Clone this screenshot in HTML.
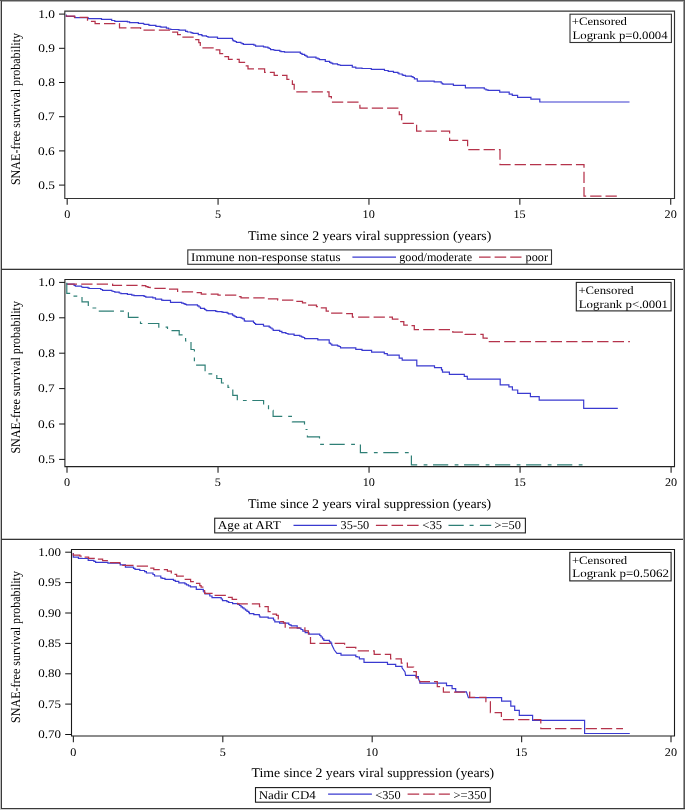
<!DOCTYPE html>
<html><head><meta charset="utf-8"><style>
html,body{margin:0;padding:0;background:#fff;}
svg{display:block;will-change:transform;}
text{text-rendering:geometricPrecision;font-family:"Liberation Serif", serif;fill:#000;stroke:none;}
</style></head><body>
<svg width="685" height="810" viewBox="0 0 685 810">
<rect x="0" y="0" width="685" height="810" fill="#fff"/>
<rect x="0" y="0" width="1" height="810" fill="#bcbcbc"/>
<rect x="1" y="0" width="1" height="810" fill="#3a3a3a"/>
<rect x="0" y="0" width="685" height="1" fill="#555"/>
<rect x="2" y="1" width="681" height="1" fill="#ababab"/>
<rect x="683" y="1" width="1" height="808" fill="#9a9a9a"/>
<rect x="684" y="0" width="1" height="810" fill="#555"/>
<rect x="1" y="808" width="684" height="1" fill="#3a3a3a"/>
<rect x="0" y="809" width="685" height="1" fill="#cfcfcf"/>
<rect x="2" y="268" width="681" height="1" fill="#c4c4c4"/>
<rect x="2" y="269" width="681" height="1" fill="#353535"/>
<rect x="2" y="538" width="681" height="1" fill="#c4c4c4"/>
<rect x="2" y="539" width="681" height="1" fill="#353535"/>
<clipPath id="c0"><rect x="64.8" y="11.1" width="609.7" height="187.4"/></clipPath>
<g fill="none" clip-path="url(#c0)" stroke-linejoin="miter">
<path d="M66.3 14.5 V16.3 H74.8 V17.7 H88.1 V18.6 H101.5 V19.4 H111.7 V20.5 H114.8 V21.3 H127.4 V21.9 H129.6 V22.6 H138.4 V23.3 H143.5 V24 H144.5 V24.3 H148.8 V25.2 H149.8 V25.4 H155.9 V26.3 H160.2 V26.8 H161.2 V27.2 H166.4 V28.1 H168.6 V29 H170.8 V29.5 H178.5 V29.9 H179.5 V30.2 H185.6 V31.3 H187.4 V32 H190.9 V32.6 H192.2 V33.2 H193.5 V33.4 H198.3 V34.6 H201.5 V35.2 H202.3 V35.8 H206.5 V36.5 H208 V37.2 H217.5 V38.3 H232.5 V40 H233.3 V40.8 H235 V41.5 H236.4 V42.3 H240.8 V43 H242 V43.7 H243.4 V44.3 H253.9 V45.2 H255.6 V46.1 H263.5 V46.9 H265.3 V47.2 H267.9 V47.8 H269.2 V48.5 H270.5 V49.6 H273.6 V50 H274.9 V50.4 H279.7 V51.1 H281 V51.6 H284.5 V52.2 H300.3 V53.3 H302 V54.3 H304.6 V55.4 H306 V56.2 H307.3 V57.2 H316 V58.1 H318 V58.8 H319.5 V59.6 H325.3 V61.3 H329.6 V62.4 H331 V63.2 H332.7 V63.9 H337.5 V64.6 H339 V65 H340.5 V65.4 H352.3 V67.2 H355.8 V68.1 H362 V68.5 H371.3 V69.4 H384.5 V70.5 H388.2 V71.4 H393.5 V72.4 H397.9 V73.1 H399 V74 H402.2 V74.9 H403.1 V75.3 H405.5 V76.1 H411.4 V76.6 H413 V77.5 H414.4 V78.8 H417.3 V81.2 H434.2 V81.8 H441.2 V83 H442.3 V83.8 H443.3 V84.2 H453.4 V85.3 H465.4 V87.8 H484.3 V89 H486 V89.8 H488 V90.4 H499.7 V92.2 H509.2 V94.1 H512.3 V95.4 H517.6 V97.3 H530.9 V99.2 H539.8 V102 H629.5" stroke="#3a3ad0" stroke-width="1.2"/>
<path d="M66.5 14.2 V16 H74.5 V17.4 H87.5 V21.4 H95.1 V23.6 H119.5 V27.8 H140.6 V30.1 H171.2 V32.1 H177.6 V34.6 H183 V37.2 H195.8 V39.6 H198.8 V42.5 H200.3 V45.4 H202 V47.8 H215.5 V49.9 H219.8 V53.6 H224 V56.5 H228.5 V59.4 H239.2 V62.3 H245.5 V65.8 H248 V68.8 H264.6 V72.3 H274.2 V75.4 H286.9 V79.3 H292.4 V84.4 H294.2 V91.8 H329 V96.7 H331.4 V102.1 H359.9 V108.2 H399.3 V114.6 H401.7 V123.4 H416.6 V131 H449.6 V140.3 H467.6 V149.6 H500 V164.5 H584 V196.2 H616.9" stroke="#b5334b" stroke-width="1.25" stroke-dasharray="11.3 4.02" stroke-dashoffset="14.35"/>
</g>
<path d="M64.8 198.5 V11.1 H674.5 V198.5 Z" fill="none" stroke="#333" stroke-width="1.15"/>
<line x1="59.0" y1="14.1" x2="64.8" y2="14.1" stroke="#111" stroke-width="1.0"/>
<text x="38.16" y="17.70" font-size="11.6" textLength="16.74" lengthAdjust="spacingAndGlyphs">1.0</text>
<line x1="59.0" y1="48.3" x2="64.8" y2="48.3" stroke="#111" stroke-width="1.0"/>
<text x="38.20" y="51.90" font-size="11.6" textLength="16.74" lengthAdjust="spacingAndGlyphs">0.9</text>
<line x1="59.0" y1="82.5" x2="64.8" y2="82.5" stroke="#111" stroke-width="1.0"/>
<text x="38.16" y="86.10" font-size="11.6" textLength="16.74" lengthAdjust="spacingAndGlyphs">0.8</text>
<line x1="59.0" y1="116.7" x2="64.8" y2="116.7" stroke="#111" stroke-width="1.0"/>
<text x="38.06" y="120.30" font-size="11.6" textLength="16.74" lengthAdjust="spacingAndGlyphs">0.7</text>
<line x1="59.0" y1="150.9" x2="64.8" y2="150.9" stroke="#111" stroke-width="1.0"/>
<text x="38.06" y="154.50" font-size="11.6" textLength="16.74" lengthAdjust="spacingAndGlyphs">0.6</text>
<line x1="59.0" y1="185.1" x2="64.8" y2="185.1" stroke="#111" stroke-width="1.0"/>
<text x="38.20" y="188.70" font-size="11.6" textLength="16.74" lengthAdjust="spacingAndGlyphs">0.5</text>
<line x1="67.20" y1="198.5" x2="67.20" y2="204.7" stroke="#333" stroke-width="1.2"/>
<text x="64.16" y="218.30" font-size="11.6" textLength="6.09" lengthAdjust="spacingAndGlyphs">0</text>
<line x1="218.07" y1="198.5" x2="218.07" y2="204.7" stroke="#333" stroke-width="1.2"/>
<text x="214.92" y="218.30" font-size="11.6" textLength="6.09" lengthAdjust="spacingAndGlyphs">5</text>
<line x1="368.95" y1="198.5" x2="368.95" y2="204.7" stroke="#333" stroke-width="1.2"/>
<text x="362.56" y="218.30" font-size="11.6" textLength="12.18" lengthAdjust="spacingAndGlyphs">10</text>
<line x1="519.83" y1="198.5" x2="519.83" y2="204.7" stroke="#333" stroke-width="1.2"/>
<text x="513.45" y="218.30" font-size="11.6" textLength="12.18" lengthAdjust="spacingAndGlyphs">15</text>
<line x1="670.70" y1="198.5" x2="670.70" y2="204.7" stroke="#333" stroke-width="1.2"/>
<text x="664.56" y="218.30" font-size="11.6" textLength="12.18" lengthAdjust="spacingAndGlyphs">20</text>
<text x="248.06" y="239.70" font-size="13.2" textLength="243.34" lengthAdjust="spacingAndGlyphs">Time since 2 years viral suppression (years)</text>
<text transform="translate(20.1 184.3) rotate(-90)" x="-0.81" y="0" font-size="13.2" textLength="152.18" lengthAdjust="spacingAndGlyphs">SNAE-free survival probability</text>
<rect x="570.0" y="14.2" width="101.39999999999998" height="28.3" fill="#fff" stroke="#333" stroke-width="1.1"/>
<text x="571.76" y="24.90" font-size="11.4" textLength="55.21" lengthAdjust="spacingAndGlyphs">+Censored</text>
<text x="572.52" y="39.10" font-size="11.4" textLength="95.06" lengthAdjust="spacingAndGlyphs">Logrank p=0.0004</text>
<rect x="187.8" y="249.9" width="363.7" height="14.400000000000006" fill="none" stroke="#333" stroke-width="1.1"/>
<text x="191.14" y="261.00" font-size="12.0" textLength="149.45" lengthAdjust="spacingAndGlyphs">Immune non-response status</text>
<line x1="352.4" y1="257.2" x2="396.0" y2="257.2" fill="none" stroke="#3a3ad0" stroke-width="1.2"/>
<text x="399.28" y="261.00" font-size="12.0" textLength="72.82" lengthAdjust="spacingAndGlyphs">good/moderate</text>
<line x1="479.0" y1="257.2" x2="521.5" y2="257.2" fill="none" stroke="#b5334b" stroke-width="1.25" stroke-dasharray="11.6 4"/>
<text x="525.62" y="261.00" font-size="12.0" textLength="22.48" lengthAdjust="spacingAndGlyphs">poor</text>
<clipPath id="c1"><rect x="64.9" y="279.5" width="609.6" height="187.10000000000002"/></clipPath>
<g fill="none" clip-path="url(#c1)" stroke-linejoin="miter">
<path d="M67 283.4 V284.2 H74.1 V285.3 H75.4 V286.1 H81.5 V287 H82.8 V287.4 H88.1 V288.1 H89.4 V288.5 H100.8 V289.5 H102.5 V290.3 H111.7 V291 H113 V291.5 H114.8 V292.1 H119.2 V293 H120.9 V293.6 H127.4 V294.3 H131.8 V295.1 H134 V295.7 H144.1 V296.3 H145.8 V297.2 H152.8 V297.9 H155.5 V299.2 H161.6 V300.2 H162.9 V300.3 H170.5 V302.4 H181.7 V303.1 H183.5 V303.6 H185 V304.3 H186.5 V304.8 H197.5 V305.9 H199 V307 H200.5 V308.4 H204.5 V309.4 H205.5 V310 H206.6 V310.7 H215.8 V311.3 H217.2 V311.6 H222 V312.2 H223.3 V312.4 H227.2 V313.1 H228.5 V313.8 H232.5 V315.1 H233.8 V315.8 H235 V316.6 H236.4 V317.4 H241.2 V318.1 H242.8 V318.8 H244.3 V320.8 H245.1 V321.2 H253.5 V322.5 H254.5 V323.5 H255.6 V324.4 H263.5 V326 H264.4 V326.2 H269.2 V327.1 H270.5 V328 H272 V329 H273.2 V330.4 H279.7 V331.3 H281.9 V332.6 H285.9 V333.5 H288 V334.2 H294.1 V335.4 H299.8 V336.1 H301.5 V336.8 H303 V337.5 H304.6 V338.6 H317.8 V339.8 H329.2 V343.1 H330.5 V344 H331.8 V345.1 H337.5 V345.8 H339 V346.5 H340.5 V347.9 H355.8 V349.4 H362 V350.3 H371.6 V352.1 H384.3 V353.6 H387.3 V355.2 H399.2 V358.2 H402.2 V360.1 H416.8 V365.8 H434.5 V367.6 H441.5 V369.9 H442.5 V372.2 H449.4 V374.3 H464.3 V376.4 H467.3 V379.2 H500.2 V384.8 H508.9 V386.9 H512.4 V390 H517.7 V393.3 H530.4 V396.6 H539.2 V400.2 H583.7 V408.3 H617.8" stroke="#3a3ad0" stroke-width="1.2"/>
<path d="M67 284 H112.6 V285.4 H141.9 V285.7 H145.8 V286.6 H148 V287.4 H150.2 V288.3 H166.5 V289.2 H177.6 V291.9 H194 V292.6 H201.3 V294 H218 V295.2 H239.5 V296.6 H241 V297.9 H266 V298.8 H277.7 V300.2 H295 V301.4 H302.5 V302.8 H306.5 V305.2 H316.5 V306.6 H318.5 V307.9 H326.2 V311 H329 V313.1 H343 V313.6 H352.4 V317.1 H392.4 V319 H399 V321.6 H403.8 V325.1 H409 V325.7 H414.3 V329.5 H452.8 V332.1 H465.1 V334.4 H483.1 V338.1 H487.1 V341.5 H629.9" stroke="#b5334b" stroke-width="1.25" stroke-dasharray="11.3 4.20" stroke-dashoffset="1.3"/>
<path d="M66.8 282.8 V293.3 H72 V296.2 H82 V301.8 H88.3 V308 H97 V311.1 H128.4 V317.3 H140.5 V323.5 H158.8 V327.2 H167.5 V330.7 H179.2 V334.8 H185.6 V341 H191 V349.5 H194.4" stroke="#2e7f76" stroke-width="1.2" stroke-dasharray="15.2 6.18 3.8 5.6" stroke-dashoffset="1.3"/>
<path d="M194.4 349.5 V365.1 H205.1 V373.9 H216.8 V378.5 H221.5 V383 H228 V387.3 H232.8 V395.3 H237.3 V400.5 H263.6 V405.5 H268.5 V410.4 H273.1 V416.3 H292.4 V421.8 H304.5 V429.5 H307.4" stroke="#2e7f76" stroke-width="1.2" stroke-dasharray="15.2 5.94 3.8 5.6" stroke-dashoffset="13.25"/>
<path d="M307.4 429.5 V436.8 H319.5 V444.3 H360.4 V452.6 H411.4 V464.9 H583.1" stroke="#2e7f76" stroke-width="1.2" stroke-dasharray="15.2 6.42 3.8 5.6" stroke-dashoffset="25.1"/>
</g>
<path d="M64.9 466.6 V279.5 H674.5 V466.6 Z" fill="none" stroke="#222" stroke-width="1.1"/>
<line x1="59.10000000000001" y1="282.4" x2="64.9" y2="282.4" stroke="#111" stroke-width="1.0"/>
<text x="38.16" y="286.00" font-size="11.6" textLength="16.74" lengthAdjust="spacingAndGlyphs">1.0</text>
<line x1="59.10000000000001" y1="317.8" x2="64.9" y2="317.8" stroke="#111" stroke-width="1.0"/>
<text x="38.20" y="321.40" font-size="11.6" textLength="16.74" lengthAdjust="spacingAndGlyphs">0.9</text>
<line x1="59.10000000000001" y1="353.2" x2="64.9" y2="353.2" stroke="#111" stroke-width="1.0"/>
<text x="38.16" y="356.80" font-size="11.6" textLength="16.74" lengthAdjust="spacingAndGlyphs">0.8</text>
<line x1="59.10000000000001" y1="388.6" x2="64.9" y2="388.6" stroke="#111" stroke-width="1.0"/>
<text x="38.06" y="392.20" font-size="11.6" textLength="16.74" lengthAdjust="spacingAndGlyphs">0.7</text>
<line x1="59.10000000000001" y1="424.0" x2="64.9" y2="424.0" stroke="#111" stroke-width="1.0"/>
<text x="38.06" y="427.60" font-size="11.6" textLength="16.74" lengthAdjust="spacingAndGlyphs">0.6</text>
<line x1="59.10000000000001" y1="459.4" x2="64.9" y2="459.4" stroke="#111" stroke-width="1.0"/>
<text x="38.20" y="463.00" font-size="11.6" textLength="16.74" lengthAdjust="spacingAndGlyphs">0.5</text>
<line x1="67.00" y1="466.6" x2="67.00" y2="472.8" stroke="#333" stroke-width="1.2"/>
<text x="63.95" y="486.40" font-size="11.6" textLength="6.09" lengthAdjust="spacingAndGlyphs">0</text>
<line x1="218.03" y1="466.6" x2="218.03" y2="472.8" stroke="#333" stroke-width="1.2"/>
<text x="214.87" y="486.40" font-size="11.6" textLength="6.09" lengthAdjust="spacingAndGlyphs">5</text>
<line x1="369.05" y1="466.6" x2="369.05" y2="472.8" stroke="#333" stroke-width="1.2"/>
<text x="362.66" y="486.40" font-size="11.6" textLength="12.18" lengthAdjust="spacingAndGlyphs">10</text>
<line x1="520.08" y1="466.6" x2="520.08" y2="472.8" stroke="#333" stroke-width="1.2"/>
<text x="513.70" y="486.40" font-size="11.6" textLength="12.18" lengthAdjust="spacingAndGlyphs">15</text>
<line x1="671.10" y1="466.6" x2="671.10" y2="472.8" stroke="#333" stroke-width="1.2"/>
<text x="664.96" y="486.40" font-size="11.6" textLength="12.18" lengthAdjust="spacingAndGlyphs">20</text>
<text x="248.06" y="508.10" font-size="13.2" textLength="243.14" lengthAdjust="spacingAndGlyphs">Time since 2 years viral suppression (years)</text>
<text transform="translate(20.1 452.8) rotate(-90)" x="-0.82" y="0" font-size="13.2" textLength="152.59" lengthAdjust="spacingAndGlyphs">SNAE-free survival probability</text>
<rect x="576.3" y="282.4" width="94.80000000000007" height="28.5" fill="#fff" stroke="#222" stroke-width="1.1"/>
<text x="578.46" y="293.80" font-size="11.4" textLength="55.21" lengthAdjust="spacingAndGlyphs">+Censored</text>
<text x="578.71" y="307.90" font-size="11.4" textLength="89.35" lengthAdjust="spacingAndGlyphs">Logrank p&lt;.0001</text>
<rect x="214.7" y="518.2" width="310.7" height="14.699999999999932" fill="none" stroke="#222" stroke-width="1.1"/>
<text x="217.77" y="529.40" font-size="12.0" textLength="63.13" lengthAdjust="spacingAndGlyphs">Age at ART</text>
<line x1="293.5" y1="525.4" x2="336.9" y2="525.4" fill="none" stroke="#3a3ad0" stroke-width="1.2"/>
<text x="340.62" y="529.40" font-size="12.0" textLength="28.65" lengthAdjust="spacingAndGlyphs">35-50</text>
<line x1="375.9" y1="525.4" x2="418.6" y2="525.4" fill="none" stroke="#b5334b" stroke-width="1.25" stroke-dasharray="11.6 4"/>
<text x="422.37" y="529.40" font-size="12.0" textLength="19.72" lengthAdjust="spacingAndGlyphs">&lt;35</text>
<line x1="448.5" y1="525.4" x2="491.2" y2="525.4" fill="none" stroke="#2e7f76" stroke-width="1.2" stroke-dasharray="15.2 5.9 4 6.3"/>
<text x="494.58" y="529.40" font-size="12.0" textLength="26.29" lengthAdjust="spacingAndGlyphs">&gt;=50</text>
<clipPath id="c2"><rect x="71.5" y="549.5" width="603.0" height="186.5"/></clipPath>
<g fill="none" clip-path="url(#c2)" stroke-linejoin="miter">
<path d="M73.3 553 V557.2 H78.4 V558.3 H82 V558.5 H88.2 V560.4 H93.9 V561.4 H95.6 V562.3 H107.9 V563.2 H120.2 V564.9 H125.4 V567.2 H133.5 V568.3 H135 V569.4 H139.8 V570.5 H144.6 V571.6 H146.4 V573 H153 V574.5 H154.5 V576 H160.8 V577.8 H162.2 V578.3 H165 V579.3 H173.5 V580.4 H175.3 V581.3 H178.8 V582.8 H184.9 V583.9 H186.5 V584.8 H188.5 V585.8 H190.5 V586.9 H196.3 V589.4 H203.3 V591.1 H204.2 V592.3 H205 V593.8 H209.8 V596 H212 V597.7 H221.2 V599 H222.5 V600.6 H226.9 V601.6 H228.7 V602.5 H232.6 V603.6 H237.9 V604.4 H239.5 V605.5 H241 V606.8 H242.5 V607.8 H244 V609 H245.5 V610.2 H247 V611.3 H248.7 V612.4 H249.4 V613.6 H253.8 V614.7 H259.3 V616 H259.9 V617.1 H268.2 V618.2 H273.5 V620 H274.8 V621.9 H279.6 V623.2 H288.8 V624.5 H290 V625.2 H291.4 V625.8 H297.2 V628.1 H301 V629.5 H302.8 V631.2 H305.2 V632.7 H308.9 V634.1 H319.8 V635.5 H321 V637 H322.5 V638.8 H323.8 V640.4 H329.5 V641.8 H330.8 V643.2 H331.7 V644.5 L334.3 650 L336.9 653.3 H341 V655.2 H355.8 V656.6 H357.2 V657 H359.4 V658.9 H364 V662.3 H387.5 V664.4 H395.7 V666.3 H402 V667.8 L405 672 L405.6 675.4 H415.8 V676.7 H418.4 V678.5 L419.9 682.4 V683.2 H446.5 V685.6 H452.1 V688.6 H455.7 V691.8 H466.4 L468.4 697.6 H501.6 V701.2 H510.8 V706.2 H514.7 V710.4 H519.3 V715.4 H532.6 V720.4 H584.6 V733.5 H629.8" stroke="#3a3ad0" stroke-width="1.2"/>
<path d="M73.3 552.1 V555 H79.9 V556.1 H82 V557.2 H88.6 V558.3 H95.8 V559.2 H102.6 V560.5 H108 V562.5 H119.7 V564.4 H121 V565.4 H135.5 V566.2 H149.5 V568 H153.8 V569.7 H167.4 V571.2 H171.3 V572.9 H173 V574.3 H176.6 V576.2 H184.3 V579.4 H190.6 V581.5 H195.2 V583.4 H199.8 V585.5 H201.1 V587.2 H203.7 V590.7 H204.6 V593.3 H213.5 V595.3 H227 V597.3 H232.2 V599.3 H237.6 V603.9 H259.5 V606.6 H268.2 V611.6 H271.3 V614 H276.5 V615.3 H278.3 V618.8 H280 V621.5 H283.5 V622.8 H285.2 V627.8 H304.9 V630.8 H308.4 V633.8 H310.5 V643.3 H344.6 V647.4 H355.8 V648.2 H357 V650.8 H374.2 V654.3 H390.6 V658.9 H401.3 V663 H407.4 V667.2 H413.6 V671.6 H416.3 V677.8 H419.7 V681.5 H437.3 V686.7 H443.4 V692.1 H469.7 V697.4 H485.9 V701.5 H490.4 V712.6 H501.4 V719.6 H540.8 V728.5 H623" stroke="#b5334b" stroke-width="1.25" stroke-dasharray="11.3 3.98" stroke-dashoffset="14.15"/>
</g>
<path d="M71.5 736.0 V549.5 H674.5 V736.0 Z" fill="none" stroke="#1a1a1a" stroke-width="1.1"/>
<line x1="65.2" y1="552.2" x2="71.5" y2="552.2" stroke="#111" stroke-width="1.0"/>
<text x="38.18" y="555.80" font-size="11.6" textLength="22.71" lengthAdjust="spacingAndGlyphs">1.00</text>
<line x1="65.2" y1="582.6" x2="71.5" y2="582.6" stroke="#111" stroke-width="1.0"/>
<text x="38.21" y="586.20" font-size="11.6" textLength="22.71" lengthAdjust="spacingAndGlyphs">0.95</text>
<line x1="65.2" y1="613.0" x2="71.5" y2="613.0" stroke="#111" stroke-width="1.0"/>
<text x="38.18" y="616.60" font-size="11.6" textLength="22.71" lengthAdjust="spacingAndGlyphs">0.90</text>
<line x1="65.2" y1="643.4" x2="71.5" y2="643.4" stroke="#111" stroke-width="1.0"/>
<text x="38.21" y="647.00" font-size="11.6" textLength="22.71" lengthAdjust="spacingAndGlyphs">0.85</text>
<line x1="65.2" y1="673.8" x2="71.5" y2="673.8" stroke="#111" stroke-width="1.0"/>
<text x="38.18" y="677.40" font-size="11.6" textLength="22.71" lengthAdjust="spacingAndGlyphs">0.80</text>
<line x1="65.2" y1="704.1" x2="71.5" y2="704.1" stroke="#111" stroke-width="1.0"/>
<text x="38.21" y="707.70" font-size="11.6" textLength="22.71" lengthAdjust="spacingAndGlyphs">0.75</text>
<line x1="65.2" y1="734.5" x2="71.5" y2="734.5" stroke="#111" stroke-width="1.0"/>
<text x="38.18" y="738.10" font-size="11.6" textLength="22.71" lengthAdjust="spacingAndGlyphs">0.70</text>
<line x1="73.40" y1="736.0" x2="73.40" y2="742.2" stroke="#333" stroke-width="1.2"/>
<text x="70.36" y="755.80" font-size="11.6" textLength="6.09" lengthAdjust="spacingAndGlyphs">0</text>
<line x1="222.80" y1="736.0" x2="222.80" y2="742.2" stroke="#333" stroke-width="1.2"/>
<text x="219.65" y="755.80" font-size="11.6" textLength="6.09" lengthAdjust="spacingAndGlyphs">5</text>
<line x1="372.20" y1="736.0" x2="372.20" y2="742.2" stroke="#333" stroke-width="1.2"/>
<text x="365.81" y="755.80" font-size="11.6" textLength="12.18" lengthAdjust="spacingAndGlyphs">10</text>
<line x1="521.60" y1="736.0" x2="521.60" y2="742.2" stroke="#333" stroke-width="1.2"/>
<text x="515.22" y="755.80" font-size="11.6" textLength="12.18" lengthAdjust="spacingAndGlyphs">15</text>
<line x1="671.00" y1="736.0" x2="671.00" y2="742.2" stroke="#333" stroke-width="1.2"/>
<text x="664.86" y="755.80" font-size="11.6" textLength="12.18" lengthAdjust="spacingAndGlyphs">20</text>
<text x="251.56" y="777.40" font-size="13.2" textLength="242.64" lengthAdjust="spacingAndGlyphs">Time since 2 years viral suppression (years)</text>
<text transform="translate(20.1 722.1) rotate(-90)" x="-0.81" y="0" font-size="13.2" textLength="151.88" lengthAdjust="spacingAndGlyphs">SNAE-free survival probability</text>
<rect x="569.8" y="552.4" width="101.30000000000007" height="28.5" fill="#fff" stroke="#1a1a1a" stroke-width="1.1"/>
<text x="571.96" y="563.50" font-size="11.4" textLength="55.21" lengthAdjust="spacingAndGlyphs">+Censored</text>
<text x="572.21" y="577.40" font-size="11.4" textLength="96.79" lengthAdjust="spacingAndGlyphs">Logrank p=0.5062</text>
<rect x="255.5" y="787.6" width="234.8" height="14.600000000000023" fill="none" stroke="#1a1a1a" stroke-width="1.1"/>
<text x="258.71" y="798.60" font-size="12.0" textLength="57.10" lengthAdjust="spacingAndGlyphs">Nadir CD4</text>
<line x1="328.1" y1="794.1" x2="371.9" y2="794.1" fill="none" stroke="#3a3ad0" stroke-width="1.2"/>
<text x="375.18" y="798.60" font-size="12.0" textLength="25.47" lengthAdjust="spacingAndGlyphs">&lt;350</text>
<line x1="407.6" y1="794.1" x2="449.9" y2="794.1" fill="none" stroke="#b5334b" stroke-width="1.25" stroke-dasharray="11.6 4"/>
<text x="453.47" y="798.60" font-size="12.0" textLength="33.00" lengthAdjust="spacingAndGlyphs">&gt;=350</text>
</svg></body></html>
